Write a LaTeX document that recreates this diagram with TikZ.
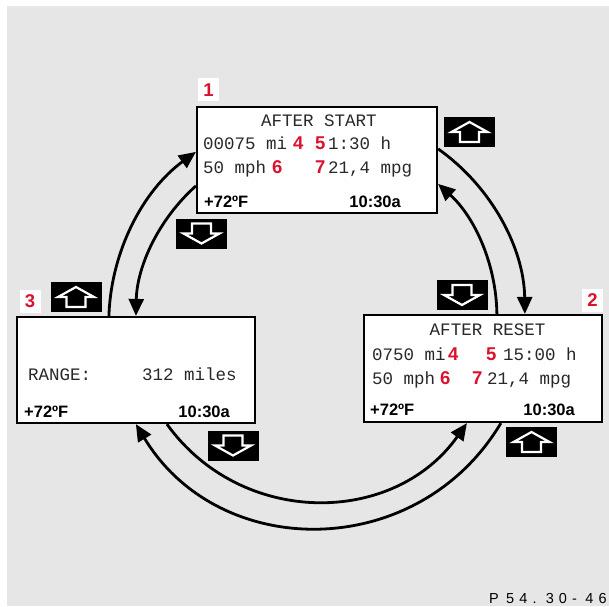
\documentclass[tikz,border=0pt]{standalone}
\usepackage{fontspec}
\setmainfont{Liberation Sans}
\newfontfamily\lcdfont{Liberation Mono}
\usetikzlibrary{arrows.meta,calc}
\definecolor{bggray}{RGB}{230,230,230}
\definecolor{numred}{RGB}{218,18,46}
\definecolor{lcdink}{RGB}{40,40,40}
\newcommand{\pcb}[1]{\makebox[13.2pt][l]{#1}}
\begin{document}
\begin{tikzpicture}[x=1pt,y=1pt,
  screen/.style={draw=black, line width=2.2pt, fill=white, inner sep=0pt},
  lcd/.style={font=\lcdfont\fontsize{17.5}{18}\selectfont, text=lcdink, inner sep=0pt, anchor=base west},
  stat/.style={font=\bfseries\fontsize{16.5}{17}\selectfont, inner sep=0pt, anchor=base west},
  rednum/.style={font=\bfseries\fontsize{18.5}{19}\selectfont, text=numred, inner sep=0pt, anchor=base west},
  tag/.style={fill=white, minimum width=21pt, minimum height=23pt, inner sep=0pt, font=\bfseries\fontsize{18.5}{19}\selectfont, text=numred},
  btn/.style={fill=black, minimum width=51pt, minimum height=30pt, inner sep=0pt},
  conn/.style={line width=2.8pt, -{Triangle[length=17pt,width=15pt]}},
  upicon/.pic={\draw[white, line width=2.2pt, line join=miter] (0,10)--(18,0)--(9.5,0)--(9.5,-10)--(-9.5,-10)--(-9.5,0)--(-18,0)--cycle;},
  downicon/.pic={\draw[white, line width=2.2pt, line join=miter] (0,-10)--(18,0)--(9.5,0)--(9.5,10)--(-9.5,10)--(-9.5,0)--(-18,0)--cycle;}
]
\useasboundingbox (0,0) rectangle (609,606);
\fill[bggray] (7,0) rectangle (609,600);

% screens (positions)
\path (317,446) node[screen, minimum width=240pt, minimum height=106pt] (b1) {};
\path (483,237.5) node[screen, minimum width=238pt, minimum height=107pt] (b2) {};
\path (136,236) node[screen, minimum width=238pt, minimum height=106pt] (b3) {};

% connector end points on the screens
\coordinate (lo1) at ($(b3.north west)+(93,0)$);
\coordinate (lo2) at ($(b1.north west)+(0,-46)$);
\coordinate (li1) at ($(b1.north west)+(0,-80)$);
\coordinate (li2) at ($(b3.north west)+(120,0)$);
\coordinate (ro1) at ($(b1.north east)+(0,-43)$);
\coordinate (ro2) at ($(b2.north west)+(162,0)$);
\coordinate (ri1) at ($(b2.north west)+(134,0)$);
\coordinate (ri2) at ($(b1.north east)+(0,-78)$);
\coordinate (bi1) at ($(b3.south west)+(151,0)$);
\coordinate (bi2) at ($(b2.south west)+(104,0)$);
\coordinate (bo1) at ($(b2.south west)+(138,0)$);
\coordinate (bo2) at ($(b3.south west)+(120,0)$);

\draw[conn] (lo1) to[bend left=26, looseness=0.9] (lo2);
\draw[conn] (li1) to[bend right=23.5, looseness=0.89] (li2);
\draw[conn] (ro1) to[bend left=27, looseness=0.9] (ro2);
\draw[conn] (ri1) to[bend right=23.5, looseness=0.89] (ri2);
\draw[conn] (bi1) to[bend right=54.5, looseness=1.08] (bi2);
\draw[conn] (bo1) to[bend left=59, looseness=1.13] (bo2);

% redraw screens on top of the connectors
\path (317,446) node[screen, minimum width=240pt, minimum height=106pt] (b1f) {};
\path (483,237.5) node[screen, minimum width=238pt, minimum height=107pt] (b2f) {};
\path (136,236) node[screen, minimum width=238pt, minimum height=106pt] (b3f) {};

% screen 1
\node[lcd, anchor=base] (t1a) at (319,479) {AFTER START};
\node[lcd] (t1b) at (203,456) {00075 mi};
\node[rednum] (n1a) at (293,456) {4};
\node[rednum] (n1b) at (315,456) {5};
\node[lcd] (t1c) at (328,456) {1:30 h};
\node[lcd] (t1d) at (203,432) {50 mph};
\node[rednum] (n1c) at (272,432) {6};
\node[rednum] (n1d) at (315,432) {7};
\node[lcd] (t1e) at (328,432) {21,4 mpg};
\node[stat] (s1a) at (204,399) {+72ºF};
\node[stat, anchor=base east] (s1b) at (401,399) {10:30a};

% screen 2
\node[lcd, anchor=base] (t2a) at (487.5,271) {AFTER RESET};
\node[lcd] (t2b) at (372,246) {0750 mi};
\node[rednum] (n2a) at (448,246) {4};
\node[rednum] (n2b) at (486,246) {5};
\node[lcd] (t2c) at (503,246) {15:00 h};
\node[lcd] (t2d) at (372,222) {50 mph};
\node[rednum] (n2c) at (440,222) {6};
\node[rednum] (n2d) at (472,222) {7};
\node[lcd] (t2e) at (487,222) {21,4 mpg};
\node[stat] (s2a) at (370,191) {+72ºF};
\node[stat, anchor=base east] (s2b) at (575,191) {10:30a};

% screen 3
\node[lcd] (t3a) at (28,226) {RANGE:};
\node[lcd] (t3b) at (142,226) {312 miles};
\node[stat] (s3a) at (24,189) {+72ºF};
\node[stat, anchor=base east] (s3b) at (230,189) {10:30a};

% tags
\node[tag] (g1) at (208.5,516) {1};
\node[tag] (g2) at (592.5,306) {2};
\node[tag] (g3) at (30,305) {3};

% buttons
\node[btn] (u1) at (469.5,474) {};
\pic at (u1) {upicon};
\node[btn] (d1) at (201.5,372.5) {};
\pic at (d1) {downicon};
\node[btn] (u3) at (76,309) {};
\pic at (u3) {upicon};
\node[btn] (d2) at (462,311) {};
\pic at (d2) {downicon};
\node[btn] (d3) at (233,160.5) {};
\pic at (d3) {downicon};
\node[btn] (u2) at (531.5,164) {};
\pic at (u2) {upicon};

% part number
\node[anchor=base west, inner sep=0pt, font=\fontsize{14.5}{16}\selectfont] (pn) at (489,3) {\makebox[17pt][l]{P}\pcb{5}\pcb{4}\pcb{.}\pcb{3}\pcb{0}\pcb{-}\pcb{4}6};
\end{tikzpicture}
\end{document}
